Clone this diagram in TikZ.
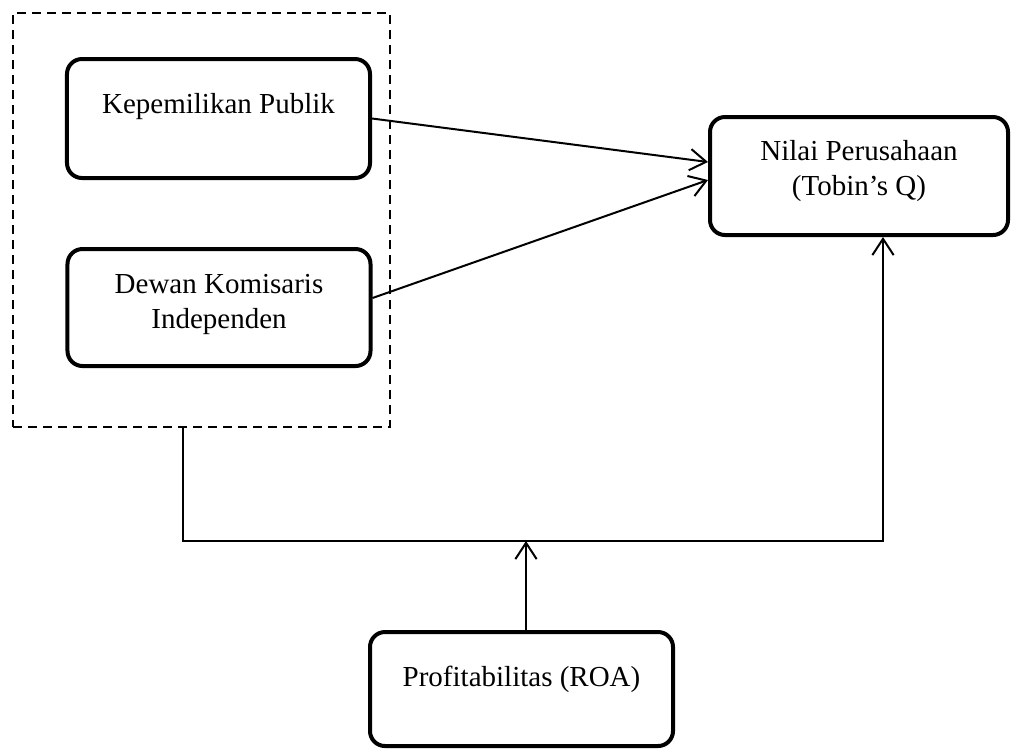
\documentclass[tikz,border=0pt]{standalone}
\usepackage{fontspec}
\setmainfont{Liberation Serif}
\usetikzlibrary{arrows.meta}

\begin{document}
\begin{tikzpicture}[x=0.4pt, y=-0.4pt,
  var/.style={rectangle, rounded corners=6pt, draw, line width=1.6pt, minimum width=121.2pt, inner sep=0pt, align=center, font=\fontsize{11.6}{14}\selectfont},
  group/.style={rectangle, draw, line width=0.6pt, dash pattern=on 3.6pt off 2.4pt, minimum width=150.8pt, minimum height=165.6pt, inner sep=0pt},
  link/.style={line width=0.8pt},
  >={Straight Barb[length=6.5pt, width=8.5pt]}]
\useasboundingbox (0,0) rectangle (1011,749);

% variabel independen (dalam kotak putus-putus)
\node (grp) [group] at (201.5,220) {};
\node (kp) [var, text height=21.6pt, text depth=26pt] at (218.5,118.5) {Kepemilikan Publik};
\node (dk) [var, text height=31.6pt, text depth=15.2pt] at (219,307.5) {Dewan Komisaris\\Independen};

% variabel dependen dan moderasi
\node (nq) [var, minimum width=119.2pt, text height=31.2pt, text depth=16pt] at (859,176) {Nilai Perusahaan\\(Tobin's Q)};
\node (pr) [var, text height=21.6pt, text depth=24pt] at (521.5,689) {Profitabilitas (ROA)};

\coordinate (jl) at (183,541);
\coordinate (jr) at (883,541);

\draw[->, link] (kp.east) -- ([yshift=5.6pt]nq.west);
\draw[->, link] ([yshift=3.8pt]dk.east) -- ([yshift=-1.6pt]nq.west);
\draw[->, link] (grp.south -| jl) -- (jl) -- (jr) -- (jr |- nq.south);
\draw[->, link] ([xshift=1.8pt]pr.north) -- ([xshift=1.8pt]pr.north |- jl);
\end{tikzpicture}
\end{document}
